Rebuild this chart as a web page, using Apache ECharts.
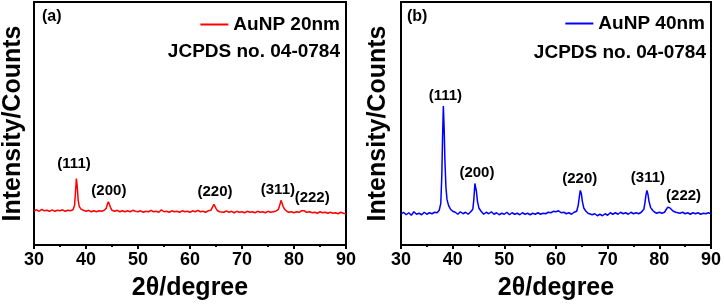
<!DOCTYPE html>
<html>
<head>
<meta charset="utf-8">
<script src="https://cdn.jsdelivr.net/npm/echarts@6/dist/echarts.min.js"></script>
<style>
  html, body { margin: 0; padding: 0; background: #fff; }
  #chart { width: 724px; height: 306px; }
</style>
</head>
<body>
<div id="chart"></div>
<script>
// 2theta (degree) vs intensity (arb. units)
const au20 = [
  [30, 34.5], [30.5, 35.5], [31, 34], [31.5, 36], [32, 34.5], [32.5, 35], [33, 34], [33.5, 35.5],
  [34, 34], [34.5, 35], [35, 34.5], [35.5, 35.5], [36, 34], [36.5, 35], [37, 34.5], [37.5, 35.5],
  [37.8, 40], [38.0, 55], [38.15, 67], [38.3, 60], [38.5, 45], [38.7, 39], [39.0, 36.5], [39.5, 35],
  [40, 34], [40.5, 35], [41, 33.5], [41.5, 34.5], [42, 33.5], [42.5, 34.5], [43, 34], [43.5, 35],
  [43.9, 37], [44.1, 41], [44.3, 43.5], [44.5, 42], [44.7, 38], [45.0, 35], [45.5, 34], [46, 35],
  [46.5, 33.5], [47, 34.5], [47.5, 33.5], [48, 34.5], [48.5, 33.5], [49, 35], [49.5, 34], [50, 33.5],
  [50.5, 34.5], [51, 33], [51.5, 34], [52, 33.5], [52.5, 35], [53, 33.5], [53.5, 34], [54, 33],
  [54.5, 35.5], [55, 33.5], [55.5, 34], [56, 33], [56.5, 34.5], [57, 33.5], [57.5, 34], [58, 33],
  [58.5, 34.5], [59, 33.5], [59.5, 34], [60, 33], [60.5, 34.5], [61, 33.5], [61.5, 35], [62, 33.5],
  [62.5, 34], [63, 33], [63.5, 34.5], [64, 35], [64.3, 38], [64.6, 41], [64.8, 40], [65.0, 37],
  [65.3, 34.5], [65.7, 33.5], [66, 34], [66.5, 33], [67, 34.5], [67.5, 33], [68, 34], [68.5, 32.5],
  [69, 34], [69.5, 33], [70, 33.5], [70.5, 32.5], [71, 34], [71.5, 33], [72, 33.5], [72.5, 32.5],
  [73, 34], [73.5, 33], [74, 33.5], [74.5, 32.5], [75, 34], [75.5, 33], [76, 33.5], [76.5, 34],
  [77.0, 36], [77.25, 40], [77.5, 45], [77.7, 43], [77.9, 39], [78.2, 36], [78.6, 34], [79, 33],
  [79.5, 33.5], [80, 32.5], [80.5, 33.5], [81, 33], [81.4, 34.5], [81.7, 36], [82.0, 34.5], [82.4, 33],
  [83, 33.5], [83.5, 32.5], [84, 33], [84.5, 32], [85, 33.5], [85.5, 32.5], [86, 33], [86.5, 32],
  [87, 33], [87.5, 32], [88, 32.5], [88.5, 31.5], [89, 33], [89.5, 32], [90, 31.5]
];

const au40 = [
  [30, 31], [30.5, 33], [31, 30.5], [31.5, 32.5], [32, 30], [32.5, 33.5], [33, 31], [33.5, 32],
  [34, 30.5], [34.5, 33], [35, 31], [35.5, 32.5], [36, 31.5], [36.5, 33], [37, 32.5], [37.4, 35],
  [37.7, 42], [37.9, 70], [38.05, 110], [38.2, 140], [38.35, 118], [38.5, 85], [38.7, 58], [38.9, 46],
  [39.2, 40], [39.6, 36], [40, 34], [40.5, 33], [41, 31], [41.5, 33.5], [42, 31.5], [42.5, 33],
  [43, 31], [43.5, 33.5], [43.9, 36], [44.1, 46], [44.3, 62], [44.45, 64], [44.6, 54], [44.8, 44],
  [45.1, 37], [45.5, 34], [46, 31], [46.5, 33], [47, 31.5], [47.5, 33.5], [48, 31], [48.5, 32.5],
  [49, 30.5], [49.5, 32], [50, 31], [50.5, 33], [51, 30.5], [51.5, 32.5], [52, 31], [52.5, 32],
  [53, 30.5], [53.5, 32.5], [54, 31], [54.5, 32], [55, 30.5], [55.5, 32], [56, 31], [56.5, 32.5],
  [57, 31], [57.5, 32], [58, 31.5], [58.5, 33], [59, 32.5], [59.5, 34], [60, 33.5], [60.5, 34.5],
  [61, 32.5], [61.5, 33], [62, 31.5], [62.5, 32.5], [63, 31], [63.5, 33], [64, 34], [64.3, 40],
  [64.5, 48], [64.7, 55], [64.9, 52], [65.1, 44], [65.4, 37], [65.8, 34], [66.2, 32], [66.5, 33],
  [67, 30.5], [67.5, 31.5], [68, 29.5], [68.5, 31], [69, 29.5], [69.5, 31.5], [70, 30], [70.5, 32.5],
  [71, 31], [71.5, 32.5], [72, 31], [72.5, 33], [73, 31.5], [73.5, 32.5], [74, 31], [74.5, 33],
  [75, 31.5], [75.5, 32.5], [76, 31.5], [76.5, 33], [77.0, 36], [77.2, 42], [77.4, 50], [77.6, 55],
  [77.8, 51], [78.0, 44], [78.3, 38], [78.7, 35], [79.1, 33], [79.5, 32], [80, 33], [80.5, 32],
  [81, 33], [81.3, 35], [81.6, 38], [81.8, 39], [82.0, 37.5], [82.3, 35.5], [82.7, 34], [83.2, 33],
  [83.5, 34], [84, 32], [84.5, 33], [85, 31.5], [85.5, 32.5], [86, 31], [86.5, 32.5], [87, 31.5],
  [87.5, 32.5], [88, 31], [88.5, 32], [89, 31.5], [89.5, 32.5], [90, 31.5]
];

// Miller indices and where their labels sit (2theta, intensity)
const hkl = ['(111)', '(200)', '(220)', '(311)', '(222)'];
const hklPos20 = [[37.7, 82], [44.4, 55], [64.8, 54], [76.9, 56], [83.5, 48]];
const hklPos40 = [[38.6, 150], [44.7, 73], [64.6, 67], [77.8, 68], [84.7, 50]];

const xTicks = [30, 40, 50, 60, 70, 80, 90];

const FONT = 'Liberation Sans, Arial, sans-serif';

function labelData (pos) {
  return pos.map((p, i) => [p[0], p[1], hkl[i]]);
}

function xAxisFor (gridIndex) {
  return {
    type: 'value',
    gridIndex: gridIndex,
    min: xTicks[0],
    max: xTicks[xTicks.length - 1],
    interval: 10,
    name: '2θ/degree',
    nameLocation: 'middle',
    nameGap: 31,
    nameTextStyle: { fontFamily: FONT, fontWeight: 'bold', fontSize: 25, color: '#000' },
    axisLine: { lineStyle: { color: '#000', width: 2 } },
    axisTick: { show: true, length: 4, lineStyle: { color: '#000', width: 2 } },
    minorTick: { show: true, splitNumber: 2, length: 2, lineStyle: { color: '#000', width: 2 } },
    axisLabel: { fontFamily: FONT, fontWeight: 'bold', fontSize: 18, color: '#000', margin: 6 },
    splitLine: { show: false }
  };
}

function yAxisFor (gridIndex, gap) {
  return {
    type: 'value',
    gridIndex: gridIndex,
    min: 0,
    max: 245,
    name: 'Intensity/Counts',
    nameLocation: 'middle',
    nameGap: gap,
    nameTextStyle: { fontFamily: FONT, fontWeight: 'bold', fontSize: 25, color: '#000' },
    axisLine: { show: true, lineStyle: { color: '#000', width: 2 } },
    axisTick: { show: false },
    axisLabel: { show: false },
    splitLine: { show: false }
  };
}

function hklSeries (idx, pos) {
  return {
    type: 'scatter',
    xAxisIndex: idx,
    yAxisIndex: idx,
    symbolSize: 1,
    silent: true,
    itemStyle: { opacity: 0 },
    data: labelData(pos),
    label: {
      show: true,
      position: 'inside',
      formatter: p => p.data[2],
      fontFamily: FONT,
      fontWeight: 'bold',
      fontSize: 15,
      color: '#000',
      opacity: 1,
      textBorderWidth: 0
    }
  };
}

const titleStyle = { fontFamily: FONT, fontWeight: 'bold', color: '#000' };

const option = {
  animation: false,
  backgroundColor: '#fff',
  title: [
    { text: '(a)', left: 42, top: 9, padding: 0, textStyle: Object.assign({ fontSize: 16 }, titleStyle) },
    { text: 'JCPDS no. 04-0784', right: 384, top: 42, padding: 0, textStyle: Object.assign({ fontSize: 19 }, titleStyle) },
    { text: '(b)', left: 407, top: 9, padding: 0, textStyle: Object.assign({ fontSize: 16 }, titleStyle) },
    { text: 'JCPDS no. 04-0784', right: 18, top: 43, padding: 0, textStyle: Object.assign({ fontSize: 19 }, titleStyle) }
  ],
  legend: [
    {
      data: ['AuNP 20nm'],
      right: 384,
      top: 15,
      padding: 0,
      icon: 'rect',
      itemWidth: 28,
      itemHeight: 2,
      textStyle: { fontFamily: FONT, fontWeight: 'bold', fontSize: 19, color: '#000' }
    },
    {
      data: ['AuNP 40nm'],
      right: 19,
      top: 14,
      padding: 0,
      icon: 'rect',
      itemWidth: 28,
      itemHeight: 2,
      textStyle: { fontFamily: FONT, fontWeight: 'bold', fontSize: 19, color: '#000' }
    }
  ],
  grid: [
    { left: 34, top: 2, width: 312, height: 245, show: true, borderColor: '#000', borderWidth: 2 },
    { left: 401, top: 2, width: 311, height: 245, show: true, borderColor: '#000', borderWidth: 2 }
  ],
  xAxis: [xAxisFor(0), xAxisFor(1)],
  yAxis: [yAxisFor(0, 8), yAxisFor(1, 10)],
  series: [
    {
      name: 'AuNP 20nm',
      type: 'line',
      xAxisIndex: 0,
      yAxisIndex: 0,
      showSymbol: false,
      symbol: 'none',
      color: '#ff0000',
      lineStyle: { width: 1.5 },
      data: au20
    },
    {
      name: 'AuNP 40nm',
      type: 'line',
      xAxisIndex: 1,
      yAxisIndex: 1,
      showSymbol: false,
      symbol: 'none',
      color: '#0000ff',
      lineStyle: { width: 1.5 },
      data: au40
    },
    hklSeries(0, hklPos20),
    hklSeries(1, hklPos40)
  ]
};

const chart = echarts.init(document.getElementById('chart'));
chart.setOption(option);
</script>
</body>
</html>
